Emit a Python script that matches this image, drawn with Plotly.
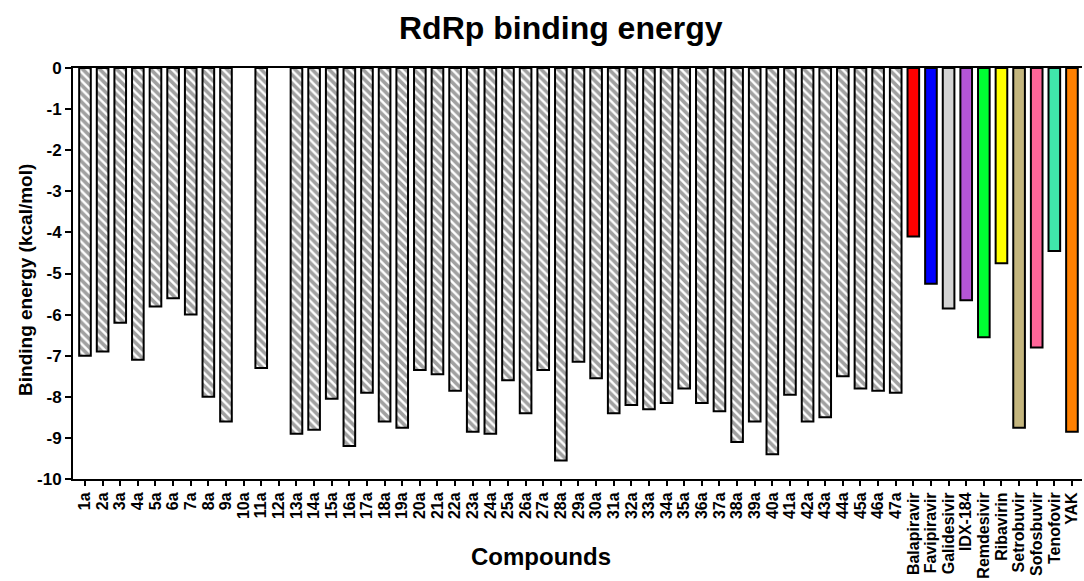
import plotly.graph_objects as go

# Synthesised compounds 1a-47a followed by reference antivirals
compounds = [f"{i}a" for i in range(1, 48)]
drugs = ["Balapiravir", "Favipiravir", "Galidesivir", "IDX-184", "Remdesivir",
         "Ribavirin", "Setrobuvir", "Sofosbuvir", "Tenofovir", "YAK"]

# kcal/mol; None = no docking result (10a, 12a)
compound_energy = [
    -7.0, -6.9, -6.2, -7.1, -5.8, -5.6, -6.0, -8.0, -8.6, None,
    -7.3, None, -8.9, -8.8, -8.05, -9.2, -7.9, -8.6, -8.75, -7.35,
    -7.45, -7.85, -8.85, -8.9, -7.6, -8.4, -7.35, -9.55, -7.15, -7.55,
    -8.4, -8.2, -8.3, -8.15, -7.8, -8.15, -8.35, -9.1, -8.6, -9.4,
    -7.95, -8.6, -8.5, -7.5, -7.8, -7.85, -7.9,
]
drug_energy = [-4.1, -5.25, -5.85, -5.65, -6.55, -4.75, -8.75, -6.8, -4.45, -8.85]
drug_colors = ["#FF0000", "#0000FF", "#D3D3D3", "#B455D6", "#00FF33",
               "#FFFF00", "#C4B67E", "#FF6699", "#40E6AA", "#FF8000"]

y_ticks = list(range(0, -11, -1))

categories = compounds + drugs
energies = compound_energy + drug_energy
fill = ["white"] * len(compounds) + drug_colors
hatch = ["\\"] * len(compounds) + [""] * len(drugs)

font_family = "Liberation Sans, Arial, sans-serif"

# figure geometry (pixels)
W, H = 1084, 581
ML, MR, MT, MB = 73, 2, 68, 100
plot_w = W - ML - MR
plot_h = H - MT - MB


def px_x(px):
    return (px - ML) / plot_w


def px_y(py):
    return (H - MB - py) / plot_h


fig = go.Figure(
    go.Bar(
        x=categories,
        y=energies,
        width=0.66,
        marker=dict(
            color=fill,
            line=dict(color="black", width=2),
            pattern=dict(shape=hatch, fgcolor="black", fillmode="overlay",
                         size=6, solidity=0.6),
        ),
        showlegend=False,
    )
)

fig.update_layout(
    width=W,
    height=H,
    margin=dict(l=ML, r=MR, t=MT, b=MB),
    paper_bgcolor="white",
    plot_bgcolor="white",
    font=dict(family=font_family, color="black"),
    annotations=[
        dict(text="<b>RdRp binding energy</b>", x=px_x(561), y=px_y(28),
             xref="paper", yref="paper", xanchor="center", yanchor="middle",
             showarrow=False, font=dict(size=32, family=font_family, color="black")),
        dict(text="<b>Binding energy (kcal/mol)</b>", x=px_x(26), y=px_y(281),
             xref="paper", yref="paper", xanchor="center", yanchor="middle",
             textangle=-90, showarrow=False,
             font=dict(size=19, family=font_family, color="black")),
        dict(text="<b>Compounds</b>", x=px_x(541), y=px_y(559),
             xref="paper", yref="paper", xanchor="center", yanchor="middle",
             showarrow=False, font=dict(size=24, family=font_family, color="black")),
    ],
)

fig.update_xaxes(
    type="category",
    range=[-0.68, len(categories) - 1 + 0.57],
    tickmode="array",
    tickvals=categories,
    ticktext=categories,
    tickangle=-90,
    tickfont=dict(size=16, family=font_family, weight="bold"),
    ticks="outside",
    ticklen=5,
    tickwidth=1.5,
    tickcolor="black",
    showline=True,
    linecolor="black",
    linewidth=2,
    mirror=True,
    showgrid=False,
)
fig.update_yaxes(
    range=[-10, 0],
    tickmode="array",
    tickvals=y_ticks,
    ticktext=[str(v) for v in y_ticks],
    tickfont=dict(size=17, family=font_family, weight="bold"),
    ticks="outside",
    ticklen=6,
    tickwidth=1.5,
    tickcolor="black",
    showline=True,
    linecolor="black",
    linewidth=2,
    showgrid=False,
    zeroline=False,
)

fig.write_html("out.html")
